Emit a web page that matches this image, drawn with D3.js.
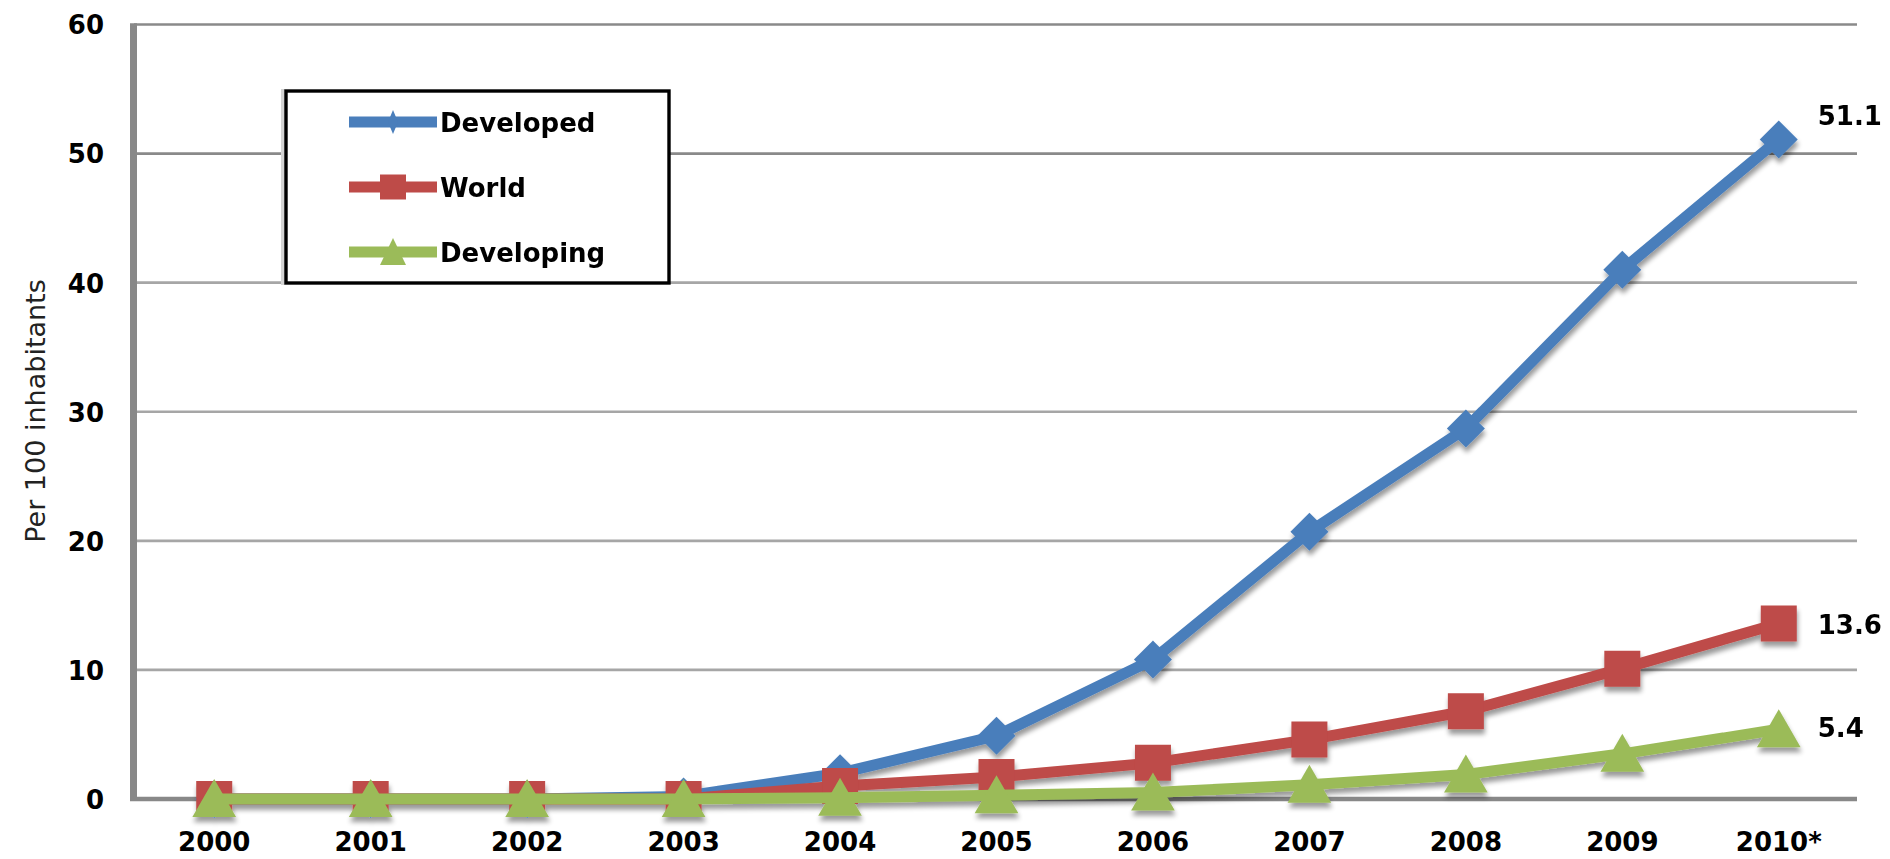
<!DOCTYPE html>
<html>
<head>
<meta charset="utf-8">
<script src="https://cdn.jsdelivr.net/npm/d3@7"></script>
<style>
  html, body { margin: 0; padding: 0; background: #ffffff; }
  svg { display: block; }
  text { font-family: "DejaVu Sans", sans-serif; fill: #000; }
</style>
</head>
<body>
<svg id="chart" width="1890" height="859"></svg>
<script>
// Mobile broadband subscriptions per 100 inhabitants, 2000-2010
const years = ["2000", "2001", "2002", "2003", "2004", "2005", "2006", "2007", "2008", "2009", "2010*"];
const developed  = [0, 0, 0, 0.2, 2.0, 4.9, 10.8, 20.7, 28.7, 41.0, 51.1];
const world      = [0, 0, 0, 0, 1.0, 1.7, 2.8, 4.6, 6.8, 10.1, 13.6];
const developing = [0, 0, 0, 0, 0.1, 0.3, 0.5, 1.1, 1.9, 3.5, 5.4];
const yTicks = [0, 10, 20, 30, 40, 50, 60];
const seriesNames = ["Developed", "World", "Developing"];

const series = [
  { name: seriesNames[0], values: developed,  color: "#4a7ebb", marker: "diamond",  labelDy: -24 },
  { name: seriesNames[1], values: world,      color: "#be4b48", marker: "square",   labelDy: 1 },
  { name: seriesNames[2], values: developing, color: "#9bbb59", marker: "triangle", labelDy: -2 }
];

const svg = d3.select("#chart");
const plot = { left: 136, right: 1857, top: 24.5, bottom: 799 };

const x = d3.scaleBand().domain(years).range([plot.left, plot.right]).padding(0);
const y = d3.scaleLinear().domain([0, 60]).range([plot.bottom, plot.top]);
const cx = d => x(d) + x.bandwidth() / 2;

// soft shadow under the series
const defs = svg.append("defs");
const f = defs.append("filter").attr("id", "shadow")
  .attr("x", "-10%").attr("y", "-10%").attr("width", "120%").attr("height", "130%");
f.append("feGaussianBlur").attr("in", "SourceAlpha").attr("stdDeviation", 2.4).attr("result", "blur");
f.append("feOffset").attr("in", "blur").attr("dx", 1).attr("dy", 5).attr("result", "off");
f.append("feComponentTransfer").attr("in", "off").attr("result", "shade")
  .append("feFuncA").attr("type", "linear").attr("slope", 0.4);
const fm = f.append("feMerge");
fm.append("feMergeNode").attr("in", "shade");
fm.append("feMergeNode").attr("in", "SourceGraphic");

// horizontal gridlines
svg.append("g").selectAll("line")
  .data(yTicks.filter(t => t > 0))
  .join("line")
  .attr("x1", plot.left - 2).attr("x2", plot.right)
  .attr("y1", d => y(d)).attr("y2", d => y(d))
  .attr("stroke", d => d >= 50 ? "#8a8a8a" : "#a6a6a6")
  .attr("stroke-width", 2.6);

// value axis
const yAxis = d3.axisLeft(y).tickValues(yTicks).tickSize(0).tickPadding(30);
const gy = svg.append("g").attr("transform", `translate(${plot.left - 2},0)`).call(yAxis);
gy.select(".domain").remove();
gy.selectAll("text")
  .style("font-family", "DejaVu Sans, sans-serif")
  .style("font-size", "26px")
  .style("font-weight", "bold")
  .attr("dy", "0.36em");

svg.append("line")
  .attr("x1", plot.left - 2.5).attr("x2", plot.left - 2.5)
  .attr("y1", plot.top - 1.3).attr("y2", plot.bottom + 2)
  .attr("stroke", "#888").attr("stroke-width", 7);

// category axis
svg.append("line")
  .attr("x1", plot.left - 6).attr("x2", plot.right)
  .attr("y1", plot.bottom).attr("y2", plot.bottom)
  .attr("stroke", "#888").attr("stroke-width", 4.5);

const xAxis = d3.axisBottom(x).tickSize(0).tickPadding(0);
const gx = svg.append("g").attr("transform", `translate(0,${plot.bottom})`).call(xAxis);
gx.select(".domain").remove();
gx.selectAll("text")
  .style("font-family", "DejaVu Sans, sans-serif")
  .style("font-size", "26px")
  .style("font-weight", "bold")
  .attr("y", 52).attr("dy", 0);

// axis title
svg.append("text")
  .attr("transform", `translate(45,411) rotate(-90)`)
  .attr("text-anchor", "middle")
  .style("font-size", "27px")
  .style("fill", "#222")
  .text("Per 100 inhabitants");

// marker shapes
function markerPath(type, s) {
  if (type === "diamond") return `M0,${-s} L${s},0 L0,${s} L${-s},0 Z`;
  if (type === "square") return `M${-s},${-s} H${s} V${s} H${-s} Z`;
  return `M0,${-s * 1.05} L${s * 1.15},${s * 0.95} L${-s * 1.15},${s * 0.95} Z`;
}
const markerSize = { diamond: 19, square: 18, triangle: 19 };

const line = d3.line().x((d, i) => cx(years[i])).y(d => y(d));

const gSeries = svg.append("g").attr("filter", "url(#shadow)");
series.forEach(s => {
  const g = gSeries.append("g");
  g.append("path")
    .attr("d", line(s.values))
    .attr("fill", "none")
    .attr("stroke", s.color)
    .attr("stroke-width", 11)
    .attr("stroke-linejoin", "round");
  g.selectAll("path.m")
    .data(s.values)
    .join("path")
    .attr("class", "m")
    .attr("transform", (d, i) => `translate(${cx(years[i])},${y(d)})`)
    .attr("d", markerPath(s.marker, markerSize[s.marker]))
    .attr("fill", s.color);
});

// end-of-series value labels
series.forEach(s => {
  const last = s.values[s.values.length - 1];
  svg.append("text")
    .attr("x", cx(years[years.length - 1]) + 39)
    .attr("y", y(last) + s.labelDy)
    .attr("dy", "0.36em")
    .style("font-size", "26px")
    .style("font-weight", "bold")
    .text(last);
});

// legend
const lg = svg.append("g");
lg.append("rect").attr("x", 281).attr("y", 89).attr("width", 4).attr("height", 196).attr("fill", "#d4d4d4");
lg.append("rect")
  .attr("x", 286).attr("y", 91).attr("width", 383).attr("height", 192)
  .attr("fill", "#fff").attr("stroke", "#000").attr("stroke-width", 3.4);

const legendY = [122, 187, 252];
const legendMarker = {
  diamond: "M0,-12 L5,0 L0,12 L-5,0 Z",
  square: "M-13,-12.5 H13 V12.5 H-13 Z",
  triangle: "M0,-14 L13,13 L-13,13 Z"
};
series.forEach((s, i) => {
  const ly = legendY[i];
  lg.append("line")
    .attr("x1", 349).attr("x2", 437).attr("y1", ly).attr("y2", ly)
    .attr("stroke", s.color).attr("stroke-width", 11);
  lg.append("path")
    .attr("transform", `translate(393,${ly})`)
    .attr("d", legendMarker[s.marker])
    .attr("fill", s.color);
  lg.append("text")
    .attr("x", 440).attr("y", ly + 10)
    .style("font-size", "26px")
    .style("font-weight", "bold")
    .text(s.name);
});
</script>
</body>
</html>
